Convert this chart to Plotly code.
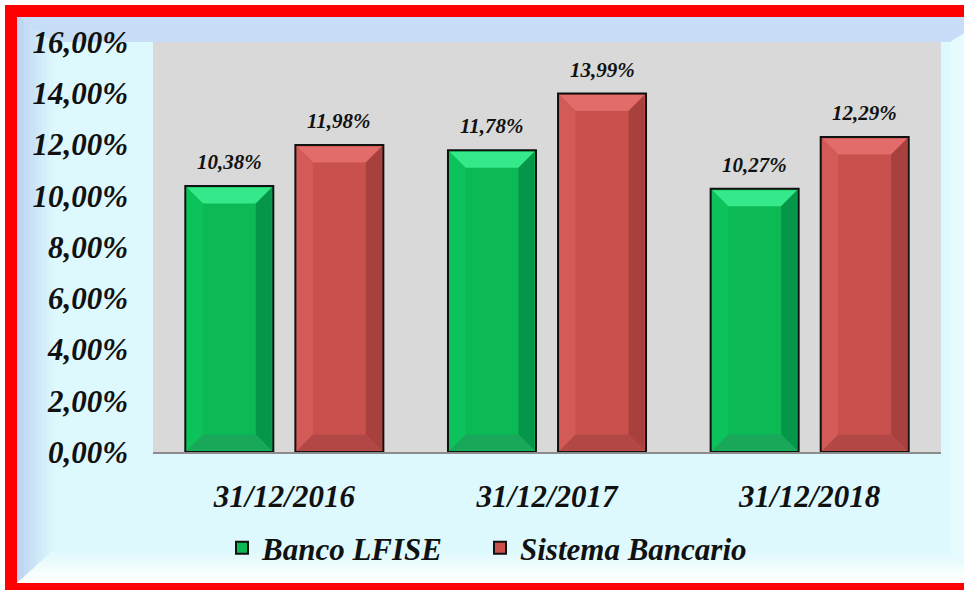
import plotly.graph_objects as go

fechas = ["31/12/2016", "31/12/2017", "31/12/2018"]
banco_lfise = [10.38, 11.78, 10.27]
sistema_bancario = [11.98, 13.99, 12.29]
y_ticks = [0, 2, 4, 6, 8, 10, 12, 14, 16]

W, H = 964, 590
L, R, T, B = 153, 23, 42, 138
PW, PH = W - L - R, H - T - B


def px(x):
    # pixel x -> paper x
    return (x - L) / PW


def py(y):
    # pixel y -> paper y
    return (H - B - y) / PH


def hexmix(c1, c2, t):
    a = [int(c1[i:i + 2], 16) for i in (1, 3, 5)]
    b = [int(c2[i:i + 2], 16) for i in (1, 3, 5)]
    return "#" + "".join(f"{round(u + (v - u) * t):02x}" for u, v in zip(a, b))


def pct(v):
    return f"{v:.2f}".replace(".", ",") + "%"


FONT = "Liberation Serif, Times New Roman, serif"
CYAN = "#ddf9fd"
LABEL_FONT = dict(family=FONT, size=31, color="#111111", style="italic", weight="bold")

idx = list(range(len(fechas)))
bar_w = 0.335
offsets = {"green": -0.377, "red": 0.042}

fig = go.Figure()
fig.add_trace(go.Bar(x=idx, y=banco_lfise, name="Banco LFISE", width=bar_w, offset=offsets["green"],
                     marker=dict(color="#0bba55", line=dict(color="#111111", width=2)),
                     legend="legend", showlegend=True))
fig.add_trace(go.Bar(x=idx, y=sistema_bancario, name="Sistema Bancario", width=bar_w, offset=offsets["red"],
                     marker=dict(color="#c8504d", line=dict(color="#111111", width=2)),
                     legend="legend2", showlegend=True))

shapes = []
# outer red frame and inner light background
shapes.append(dict(type="rect", xref="paper", yref="paper", x0=px(5), x1=px(990), y0=py(600), y1=py(5),
                   fillcolor="#ff0000", line_width=0, layer="below"))
shapes.append(dict(type="rect", xref="paper", yref="paper", x0=px(17), x1=px(990), y0=py(583), y1=py(17),
                   fillcolor=CYAN, line_width=0, layer="below"))
# top bevel band
shapes.append(dict(type="path", xref="paper", yref="paper", layer="below", line_width=0, fillcolor="#c8def8",
                   path=f"M {px(17)},{py(17)} L {px(990)},{py(17)} L {px(990)},{py(42)} L {px(50)},{py(42)} Z"))
# left bevel gradient
n = 10
for k in range(n):
    x0 = 17 + k * 3.6
    shapes.append(dict(type="path", xref="paper", yref="paper", layer="below", line_width=0,
                       fillcolor=hexmix("#bdd3f2", CYAN, k / n),
                       path=(f"M {px(x0)},{py(17 + (x0 - 17) * 0.75)} L {px(x0 + 3.8)},{py(17 + (x0 - 17) * 0.75)} "
                             f"L {px(x0 + 3.8)},{py(583 - (x0 - 17) * 0.9)} L {px(x0)},{py(583 - (x0 - 17) * 0.9)} Z")))
# bottom bevel gradient
n = 8
for k in range(n):
    y0 = 583 - (k + 1) * 4
    shapes.append(dict(type="path", xref="paper", yref="paper", layer="below", line_width=0,
                       fillcolor=hexmix("#ffffff", CYAN, k / n),
                       path=(f"M {px(17 + (583 - y0 - 4) * 1.1)},{py(y0 + 4)} L {px(990)},{py(y0 + 4)} "
                             f"L {px(990)},{py(y0)} L {px(17 + (583 - y0) * 1.1)},{py(y0)} Z")))
# right bevel
shapes.append(dict(type="path", xref="paper", yref="paper", layer="below", line_width=0, fillcolor="#e6fbfe",
                   path=f"M {px(950)},{py(42)} L {px(990)},{py(17)} L {px(990)},{py(583)} L {px(950)},{py(555)} Z"))
# plot area
shapes.append(dict(type="rect", xref="paper", yref="paper", x0=0, x1=1, y0=0, y1=1,
                   fillcolor="#d9d9d9", line_width=0, layer="below"))

# bevel on bars
dx = 16 / PW * 3
dy = 16 / PH * 16
ins_x = 1.5 / PW * 3
ins_y = 1.5 / PH * 16
styles = {
    "green": dict(top="#35e98a", right="#06964a", bottom="#19a85a", left="#0cc25b"),
    "red": dict(top="#e16c69", right="#a8413e", bottom="#b24845", left="#d25a57"),
}
for key, vals in (("green", banco_lfise), ("red", sistema_bancario)):
    st = styles[key]
    for i, v in zip(idx, vals):
        x0 = i + offsets[key] + ins_x
        x1 = i + offsets[key] + bar_w - ins_x
        yt = v - ins_y
        yb = ins_y
        polys = [
            (st["top"], [(x0, yt), (x1, yt), (x1 - dx, yt - dy), (x0 + dx, yt - dy)]),
            (st["right"], [(x1, yt), (x1, yb), (x1 - dx, yb + dy), (x1 - dx, yt - dy)]),
            (st["bottom"], [(x0, yb), (x1, yb), (x1 - dx, yb + dy), (x0 + dx, yb + dy)]),
            (st["left"], [(x0, yt), (x0 + dx, yt - dy), (x0 + dx, yb + dy), (x0, yb)]),
        ]
        for col, pts in polys:
            path = "M " + " L ".join(f"{a},{b}" for a, b in pts) + " Z"
            shapes.append(dict(type="path", xref="x", yref="y", path=path, fillcolor=col,
                               line_width=0, layer="above"))

annotations = []
for key, vals in (("green", banco_lfise), ("red", sistema_bancario)):
    for i, v in zip(idx, vals):
        annotations.append(dict(x=i + offsets[key] + bar_w / 2, y=v, xref="x", yref="y",
                                text=pct(v), showarrow=False, yanchor="bottom", yshift=10,
                                font=dict(family=FONT, size=21, color="#111111", style="italic", weight="bold")))

fig.update_layout(
    width=W, height=H,
    margin=dict(l=L, r=R, t=T, b=B),
    paper_bgcolor="#ffffff",
    plot_bgcolor="#d9d9d9",
    barmode="overlay",
    showlegend=True,
    shapes=shapes,
    annotations=annotations,
    font=dict(family=FONT, color="#111111"),
    xaxis=dict(range=[-0.5, 2.5], tickvals=idx, ticktext=fechas, showgrid=False, zeroline=False,
               showline=True, linecolor="#8c8c8c", linewidth=2, ticks="", ticklabelstandoff=16,
               tickfont=LABEL_FONT),
    yaxis=dict(range=[0, 16], tickvals=y_ticks, ticktext=[pct(v) for v in y_ticks], showgrid=False,
               zeroline=False, ticks="", ticklabelstandoff=24, tickfont=LABEL_FONT),
    legend=dict(orientation="h", x=px(222), xanchor="left", y=py(548), yanchor="middle",
                bgcolor="rgba(0,0,0,0)", itemwidth=30, font=LABEL_FONT),
    legend2=dict(orientation="h", x=px(480), xanchor="left", y=py(548), yanchor="middle",
                 bgcolor="rgba(0,0,0,0)", itemwidth=30, font=LABEL_FONT),
)

# drop the default page margin so the figure fills the window exactly
fig.write_html("out.html", config={"displayModeBar": False},
               post_script="document.body.style.margin='0';document.body.style.overflow='hidden';")
